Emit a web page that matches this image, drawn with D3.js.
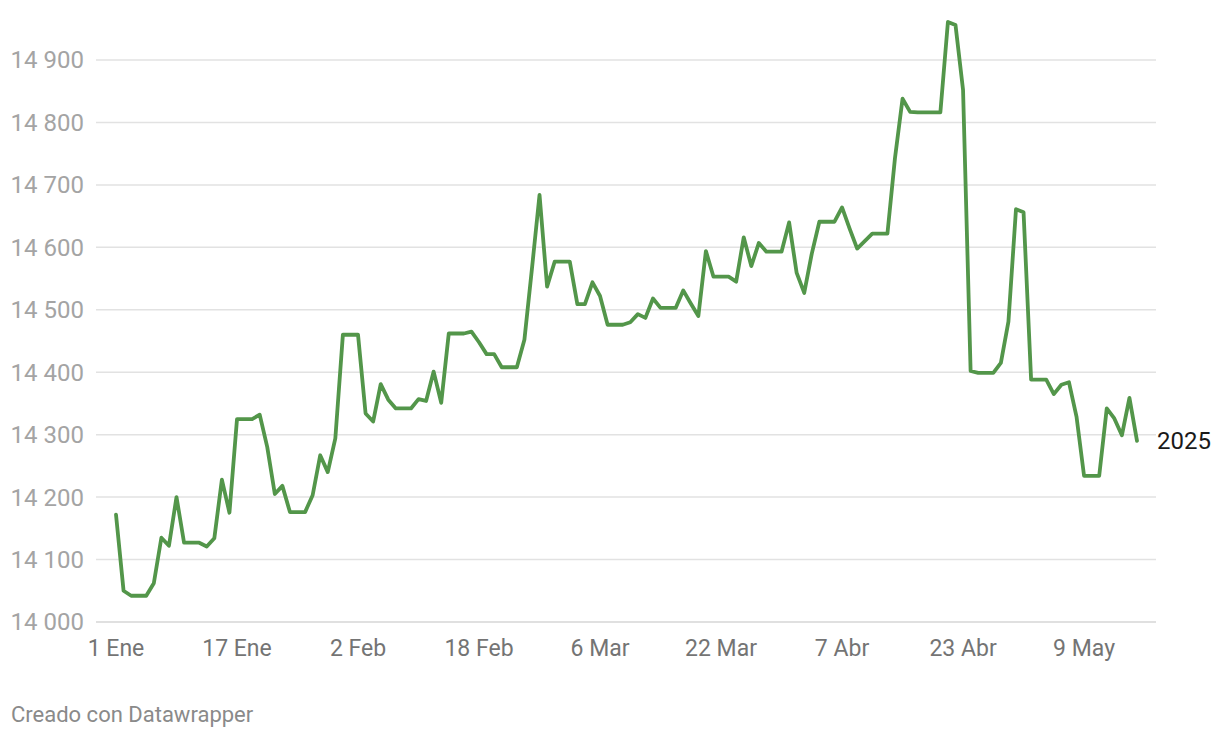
<!DOCTYPE html>
<html>
<head>
<meta charset="utf-8">
<script src="https://cdn.jsdelivr.net/npm/d3@7"></script>
<style>
  html, body { margin: 0; padding: 0; background: #fff; }
  svg { display: block; font-family: Roboto, "Noto Sans", sans-serif; }
</style>
</head>
<body>
<svg id="chart" width="1220" height="738"></svg>
<script>
// ---- Data ----
const startDate = "2025-01-01"; // first observation, one value per day
const values2025 = [
  14172, 14050, 14042, 14042, 14042, 14062, 14135, 14122, 14200, 14127,
  14127, 14127, 14121, 14134, 14228, 14175, 14325, 14325, 14325, 14332,
  14280, 14205, 14218, 14176, 14176, 14176, 14203, 14267, 14240, 14294,
  14460, 14460, 14460, 14334, 14321, 14381, 14356, 14342, 14342, 14342,
  14357, 14354, 14401, 14351, 14462, 14462, 14462, 14465, 14448, 14429,
  14429, 14408, 14408, 14408, 14452, 14566, 14684, 14537, 14577, 14577,
  14577, 14509, 14509, 14544, 14522, 14476, 14476, 14476, 14480, 14493,
  14487, 14518, 14503, 14503, 14503, 14531, 14510, 14490, 14594, 14553,
  14553, 14553, 14545, 14616, 14570, 14607, 14593, 14593, 14593, 14640,
  14559, 14527, 14590, 14641, 14641, 14641, 14664, 14630, 14598, 14610,
  14622, 14622, 14622, 14743, 14838, 14817, 14816, 14816, 14816, 14816,
  14961, 14956, 14852, 14402, 14399, 14399, 14399, 14415, 14481, 14661,
  14656, 14388, 14388, 14388, 14365, 14380, 14384, 14329, 14234, 14234,
  14234, 14342, 14326, 14299, 14359, 14290
];
const seriesLabel = "2025";
const yTicks = [14000, 14100, 14200, 14300, 14400, 14500, 14600, 14700, 14800, 14900];
const xTickDates = ["2025-01-01", "2025-01-17", "2025-02-02", "2025-02-18", "2025-03-06",
                    "2025-03-22", "2025-04-07", "2025-04-23", "2025-05-09"];
const xTickLabels = ["1 Ene", "17 Ene", "2 Feb", "18 Feb", "6 Mar", "22 Mar", "7 Abr", "23 Abr", "9 May"];
const footerText = "Creado con Datawrapper";

// ---- Build ----
const parse = d3.utcParse("%Y-%m-%d");
const t0 = parse(startDate);
const data = values2025.map((v, i) => ({ date: d3.utcDay.offset(t0, i), value: v }));

const svg = d3.select("#chart");
const gridLeft = 96, gridRight = 1156;
const plotLeft = 116, plotRight = 1137;

const x = d3.scaleUtc()
  .domain([data[0].date, data[data.length - 1].date])
  .range([plotLeft, plotRight]);
const y = d3.scaleLinear().domain([14000, 14900]).range([622, 60]);

const locale = d3.formatLocale({ decimal: ",", thousands: " ", grouping: [3], currency: ["", "€"] });
const fmt = locale.format(",d");

// grid lines
svg.append("g").selectAll("line").data(yTicks).join("line")
  .attr("x1", gridLeft).attr("x2", gridRight)
  .attr("y1", d => y(d)).attr("y2", d => y(d))
  .attr("stroke", d => d === 14000 ? "#d6d6d6" : "#e2e2e2")
  .attr("stroke-width", 1.5);

// y labels
svg.append("g").selectAll("text").data(yTicks).join("text")
  .attr("x", 84).attr("y", d => y(d)).attr("dy", "0.35em")
  .attr("text-anchor", "end")
  .attr("font-size", 24).attr("fill", "#a4a4a4")
  .text(d => fmt(d));

// x labels
svg.append("g").selectAll("text").data(xTickDates).join("text")
  .attr("x", d => x(parse(d))).attr("y", 648).attr("dy", "0.35em")
  .attr("text-anchor", "middle")
  .attr("font-size", 23).attr("fill", "#747474")
  .text((d, i) => xTickLabels[i]);

// line
const line = d3.line().x(d => x(d.date)).y(d => y(d.value));
svg.append("path").datum(data)
  .attr("d", line)
  .attr("fill", "none")
  .attr("stroke", "#53964a")
  .attr("stroke-width", 3.8)
  .attr("stroke-linejoin", "round")
  .attr("stroke-linecap", "round");

// end label
const last = data[data.length - 1];
svg.append("text")
  .attr("x", x(last.date) + 20).attr("y", y(last.value)).attr("dy", "0.35em")
  .attr("font-size", 24).attr("fill", "#1a1a1a")
  .text(seriesLabel);

// footer
svg.append("text")
  .attr("x", 11).attr("y", 714).attr("dy", "0.35em")
  .attr("font-size", 22).attr("fill", "#8a8a8a")
  .text(footerText);
</script>
</body>
</html>
